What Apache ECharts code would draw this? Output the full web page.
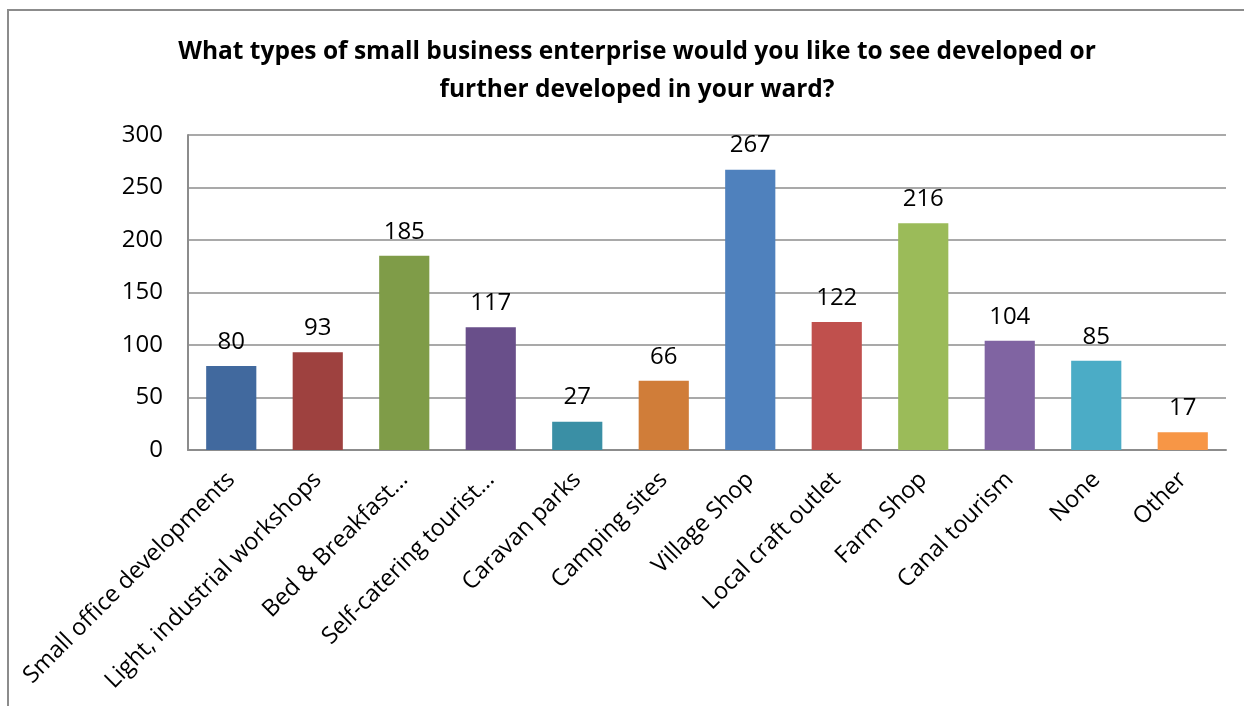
<!DOCTYPE html>
<html><head><meta charset="utf-8">
<script src="https://cdn.jsdelivr.net/npm/echarts@6/dist/echarts.min.js"></script>
<style>html,body{margin:0;padding:0;background:#fff}#c{width:1244px;height:706px}
#frame{position:absolute;left:7px;top:9px;width:1300px;height:800px;border:2px solid #8c8c8c;box-sizing:border-box;pointer-events:none}</style>
</head><body><div id="c"></div><div id="frame"></div>
<script>
const categories = ["Small office developments","Light, industrial workshops","Bed & Breakfast...","Self-catering tourist...","Caravan parks","Camping sites","Village Shop","Local craft outlet","Farm Shop","Canal tourism","None","Other"];
const values = [80,93,185,117,27,66,267,122,216,104,85,17];
const colors = ["#41699E","#9E413F","#7F9C48","#694F8A","#3A8FA5","#D07D39","#4F81BD","#C0504D","#9BBB59","#8064A2","#4BACC6","#F79646"];
const yTicks = [0,50,100,150,200,250,300];
const title = "What types of small business enterprise would you like to see developed or\nfurther developed in your ward?";
const font = "'Open Sans', 'Noto Sans', sans-serif";
const chart = echarts.init(document.getElementById('c'));
chart.setOption({
  animation:false,
  title:{text:title,left:632,top:28,textAlign:'center',textStyle:{fontFamily:font,fontWeight:'bold',fontSize:24.5,lineHeight:38,color:'#000'}},
  grid:{left:188,right:18,top:135,bottom:256,containLabel:false},
  xAxis:{type:'category',data:categories,
    axisLine:{show:true,lineStyle:{color:'#8c8c8c',width:2}},
    axisTick:{show:false},
    axisLabel:{rotate:45,interval:0,margin:26,fontFamily:font,fontSize:23.5,color:'#000'}},
  yAxis:{type:'value',min:yTicks[0],max:yTicks[yTicks.length-1],interval:50,
    axisLine:{show:true,lineStyle:{color:'#8c8c8c',width:2}},
    axisTick:{show:false},
    axisLabel:{margin:25,fontFamily:font,fontSize:24,color:'#000'},
    splitLine:{lineStyle:{color:'#8c8c8c',width:1.5}}},
  series:[{type:'bar',barCategoryGap:'42%',
    data:values.map((v,i)=>({value:v,itemStyle:{color:colors[i]}})),
    label:{show:true,position:'top',distance:12,fontFamily:font,fontSize:24,color:'#000'}}]
});
</script></body></html>
